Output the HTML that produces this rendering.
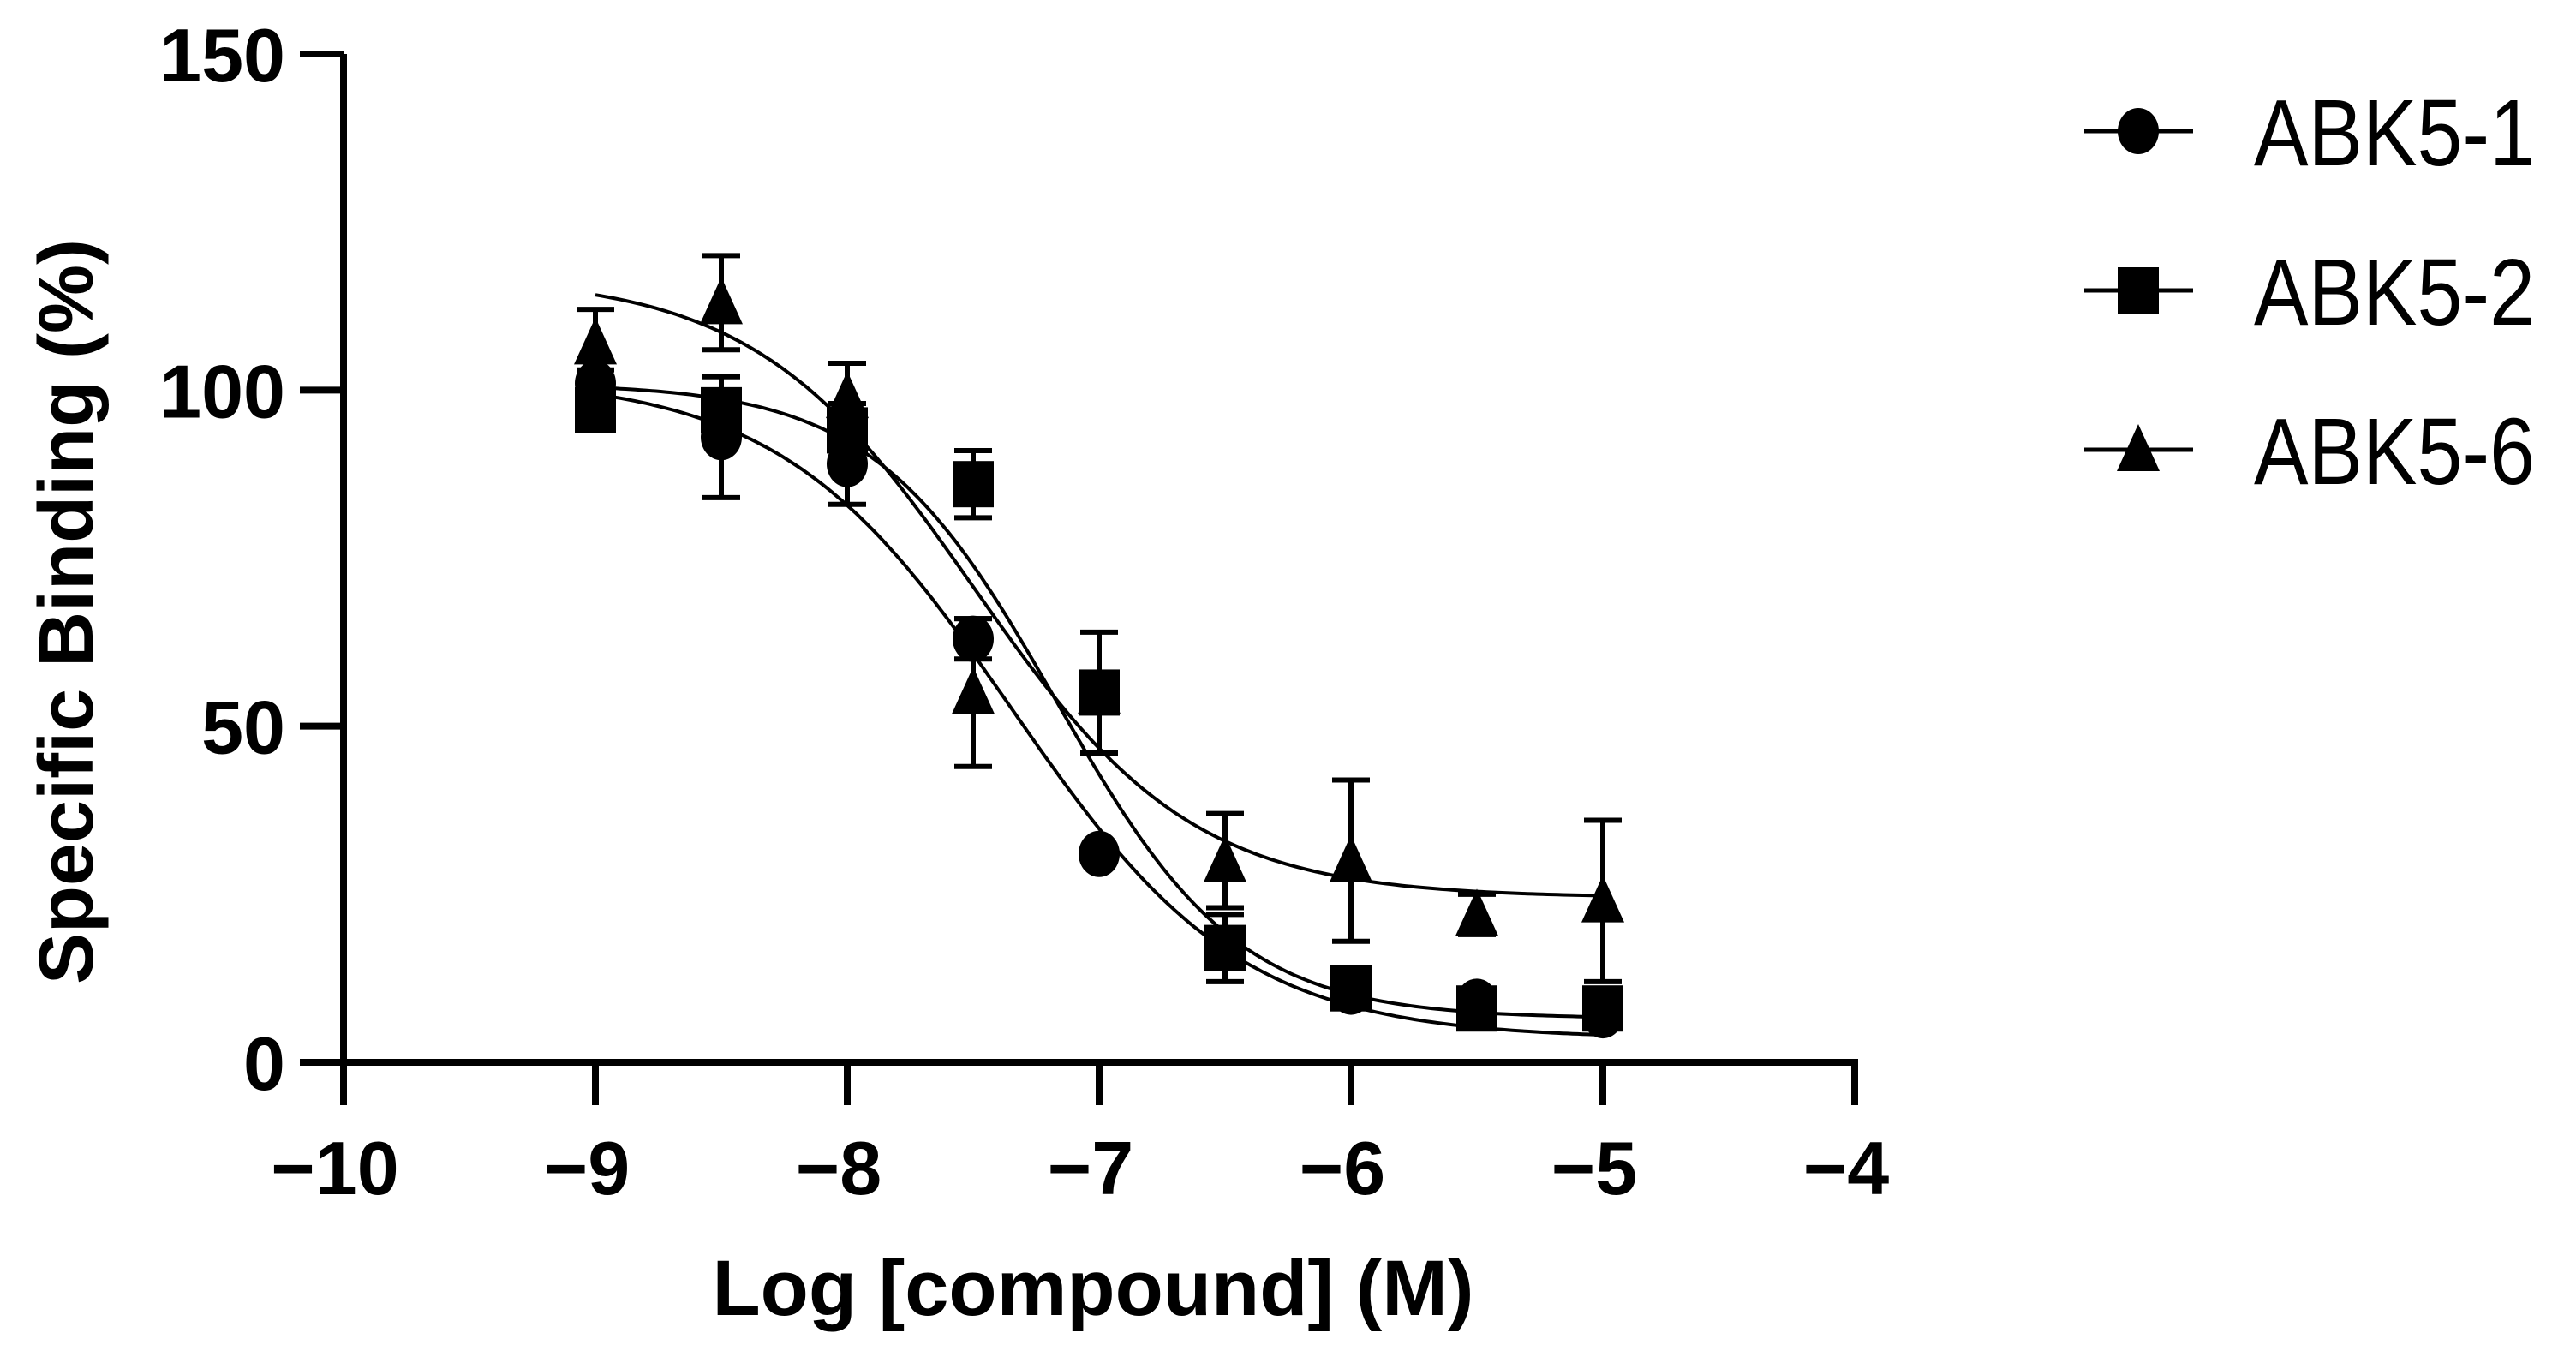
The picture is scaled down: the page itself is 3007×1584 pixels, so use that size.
<!DOCTYPE html>
<html><head><meta charset="utf-8"><style>
html,body{margin:0;padding:0;background:#fff;}
svg{display:block;font-family:"Liberation Sans",Arial,sans-serif;}
</style></head><body>
<svg id="chart" width="3007" height="1584" viewBox="0 0 3007 1584">
<g id="axes"></g>
<g id="curves"></g>
<g id="points"></g>
<g id="legend"></g>
<text x="1276" y="1535" text-anchor="middle" font-size="92" font-weight="bold">Log [compound] (M)</text>
<text transform="translate(108,714) rotate(-90)" text-anchor="middle" font-size="90" font-weight="bold">Specific Binding (%)</text>
</svg>
<script>
const xTicks = [-10,-9,-8,-7,-6,-5,-4];
const yTicks = [0,50,100,150];
const xTickLabels = ["\u221210","\u22129","\u22128","\u22127","\u22126","\u22125","\u22124"];
const yTickLabels = ["0","50","100","150"];
const doses = [-9,-8.5,-8,-7.5,-7,-6.5,-6,-5.5,-5];
const seriesNames = ["ABK5-1","ABK5-2","ABK5-6"];
const abk1 = [101,93,89,63,31,17,10.5,9,7];
const abk1Err = [2,9,6,3,0,0,0,0,0];
const abk2 = [97,97,94,86,55,17,11,8,8];
const abk2Err = [0,5,4,5,9,5,1,0,3];
const abk6 = [107,113,99,55,55,30,30,22,24];
const abk6Err = [5,7,5,11,0,7,12,3,12];
const fitTop = [102,101,117];
const fitBottom = [3.5,6.5,24.5];
const fitLogIC50 = [-7.35,-7.17,-7.5];
const fitHill = [0.95,1.2,1.0];

const NS="http://www.w3.org/2000/svg";
const X0=401, XU=294, Y0=1240, YU=(1240-63)/150;
function sx(v){return X0+(v+10)*XU;}
function sy(v){return Y0-v*YU;}
function mk(tag,attrs,parent){const e=document.createElementNS(NS,tag);for(const k in attrs)e.setAttribute(k,attrs[k]);parent.appendChild(e);return e;}

const axes=document.getElementById('axes');
let a=mk('line',{x1:X0,y1:sy(150),x2:X0,y2:Y0,stroke:'#000','stroke-width':8},axes);


a=mk('line',{x1:X0-4,y1:Y0,x2:sx(-4)+4,y2:Y0,stroke:'#000','stroke-width':8},axes);


yTicks.forEach((t,i)=>{
  const l=mk('line',{x1:350,y1:sy(t),x2:X0,y2:sy(t),stroke:'#000','stroke-width':8},axes);
  
  
  const tx=mk('text',{x:333,y:sy(t)+32,'text-anchor':'end','font-size':88,'font-weight':'bold'},axes);
  tx.textContent=yTickLabels[i];
  
  
});
xTicks.forEach((t,i)=>{
  const l=mk('line',{x1:sx(t),y1:Y0,x2:sx(t),y2:1290,stroke:'#000','stroke-width':8},axes);
  
  
  const tx=mk('text',{x:sx(t)-10,y:1394,'text-anchor':'middle','font-size':88,'font-weight':'bold'},axes);
  tx.textContent=xTickLabels[i];
  
  
});

const curves=document.getElementById('curves');
for(let s=0;s<3;s++){
  let d='';
  for(let k=0;k<=200;k++){
    const x=-9+4*k/200;
    const y=fitBottom[s]+(fitTop[s]-fitBottom[s])/(1+Math.pow(10,(x-fitLogIC50[s])*fitHill[s]));
    d+=(k?'L':'M')+sx(x).toFixed(1)+','+sy(y).toFixed(1);
  }
  const p=mk('path',{d:d,fill:'none',stroke:'#000','stroke-width':4},curves);
  
  
}

function marker(type,cx,cy,parent){
  let e;
  if(type===0) e=mk('ellipse',{cx:cx,cy:cy,rx:24,ry:27,fill:'#000'},parent);
  else if(type===1) e=mk('rect',{x:cx-24,y:cy-27,width:48,height:54,fill:'#000'},parent);
  else e=mk('polygon',{points:`${cx},${cy-30} ${cx+25},${cy+25} ${cx-25},${cy+25}`,fill:'#000'},parent);
  return e;
}
const pts=document.getElementById('points');
const vals=[abk1,abk2,abk6], errs=[abk1Err,abk2Err,abk6Err];
[2,0,1].forEach(s=>{
  doses.forEach((x,i)=>{
    const v=vals[s][i], e=errs[s][i], cx=sx(x);
    if(e>0){
      const g=mk('path',{d:`M${cx},${sy(v+e)}L${cx},${sy(v-e)}M${cx-22},${sy(v+e)}L${cx+22},${sy(v+e)}M${cx-22},${sy(v-e)}L${cx+22},${sy(v-e)}`,stroke:'#000','stroke-width':6,fill:'none'},pts);
      
      
    }
    const m=marker(s,cx,sy(v),pts);
    
    
  });
});

const lg=document.getElementById('legend');
seriesNames.forEach((n,i)=>{
  const y=153+i*186;
  const l=mk('line',{x1:2433,y1:y,x2:2560,y2:y,stroke:'#000','stroke-width':5},lg);
  
  
  const m=marker(i,2496,y,lg);
  
  
  const t=mk('text',{x:2631,y:y+40,'font-size':110,textLength:328,lengthAdjust:'spacingAndGlyphs'},lg);
  t.textContent=n;
  
  
});
</script>
</body></html>
